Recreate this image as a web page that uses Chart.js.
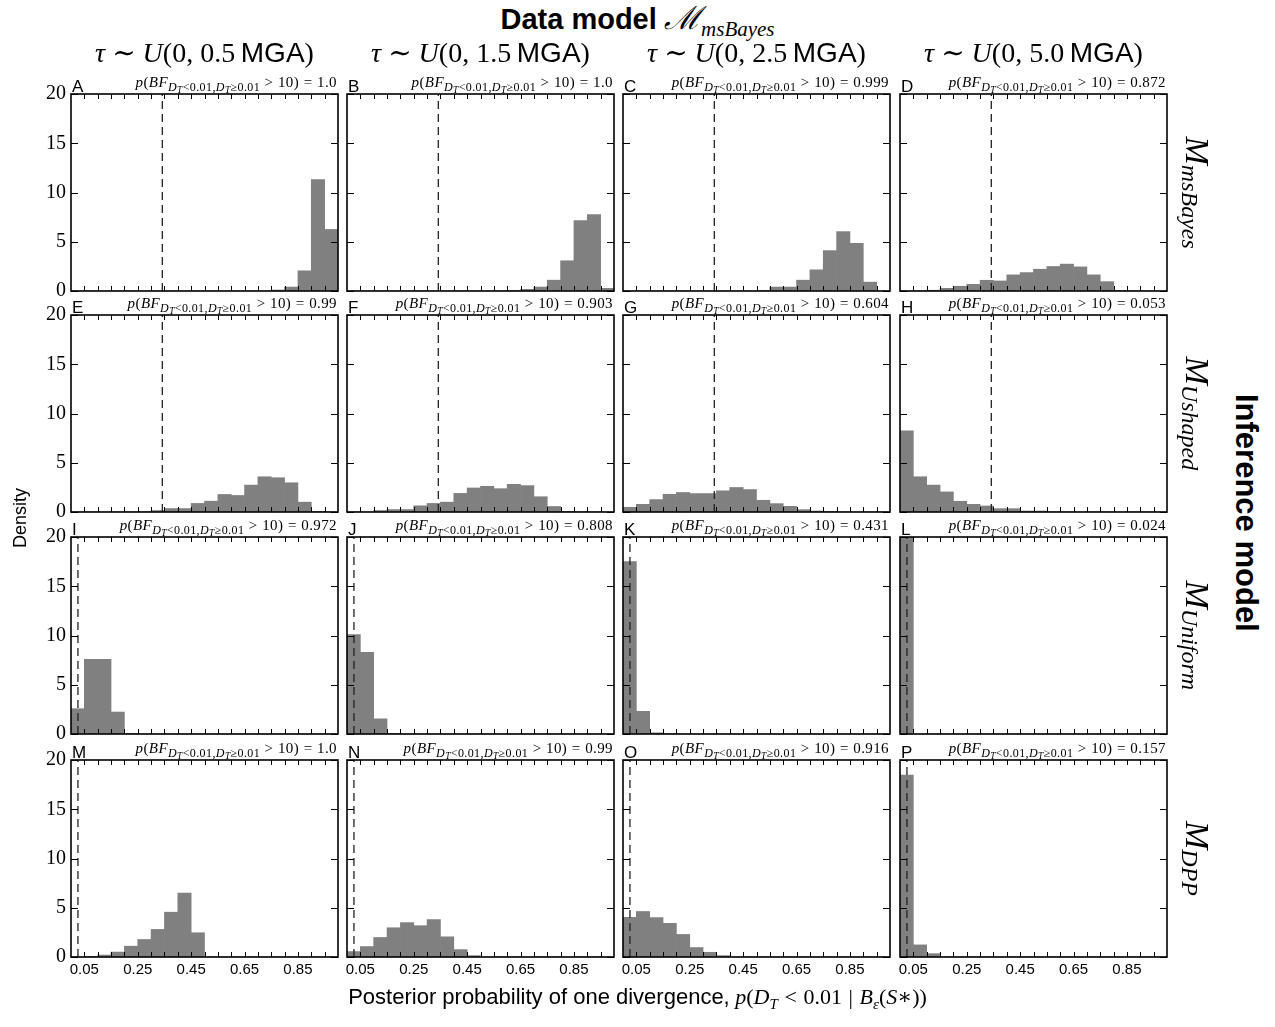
<!DOCTYPE html>
<html>
<head>
<meta charset="utf-8">
<script src="https://cdn.jsdelivr.net/npm/chart.js@4.4.1/dist/chart.umd.min.js"></script>
<style>
  body { margin: 0; background: #fff; }
  #fig { position: relative; width: 1275px; height: 1027px; overflow: hidden; background: #fff; }
  #fig canvas { position: absolute; }
  .txt { position: absolute; white-space: nowrap; color: #000; }
  .math { font-family: "Liberation Serif", "DejaVu Serif", serif; }
  .sf { font-family: "Liberation Sans", Arial, sans-serif; font-style: normal; }
  .ann { font-family: "Liberation Serif", serif; font-size: 15px; line-height: 14px; text-align: right; letter-spacing: 0.4px; }
  .ann sub { font-size: 80%; vertical-align: -0.3em; line-height: 0; }
  .ann sub sub { font-size: 78%; vertical-align: -0.25em; }
  .rel { margin: 0 0.3em; }
  .letter { font-family: "Liberation Sans", Arial, sans-serif; font-size: 17px; line-height: 16px; }
</style>
</head>
<body>
<div id="fig"></div>
<script>
// bins of width 0.05 from 0 to 1
const binCenters = [0.025, 0.075, 0.125, 0.175, 0.225, 0.275, 0.325, 0.375, 0.425, 0.475,
                    0.525, 0.575, 0.625, 0.675, 0.725, 0.775, 0.825, 0.875, 0.925, 0.975];
const xTickVals = [0.05, 0.1, 0.15, 0.2, 0.25, 0.3, 0.35, 0.4, 0.45, 0.5,
                   0.55, 0.6, 0.65, 0.7, 0.75, 0.8, 0.85, 0.9, 0.95];
const xLabelVals = [0.05, 0.25, 0.45, 0.65, 0.85];

// densities
const densA = [0,0,0,0,0, 0,0,0,0,0, 0,0,0,0,0, 0.1,0.4,2.05,11.3,6.25];
const densB = [0,0,0,0,0, 0,0,0,0,0, 0,0,0.05,0.17,0.4, 1.1,3.07,7.15,7.77,0.27];
const densC = [0,0,0,0,0, 0,0,0,0,0, 0.05,0.4,0.4,1.1,2.15, 4.1,6.03,4.84,0.9,0];
const densD = [0,0.02,0.08,0.27,0.48, 0.68,1.09,1.02,1.64,1.87, 2.21,2.49,2.73,2.45,1.64, 0.95,0.05,0.02,0,0];
const densE = [0,0,0,0,0, 0.03,0.15,0.35,0.35,0.87, 1.1,1.78,1.68,2.73,3.58, 3.48,2.97,1.0,0.07,0];
const densF = [0,0,0.15,0.25,0.25, 0.63,0.87,1.0,1.89,2.44, 2.61,2.37,2.81,2.68,1.55, 0.56,0.07,0.03,0,0];
const densG = [0.48,0.78,1.26,1.8,1.98, 1.87,1.87,2.15,2.49,2.28, 1.19,0.85,0.58,0.24,0.1, 0.05,0,0,0,0];
const densH = [8.25,3.58,2.73,2.04,1.09, 0.78,0.61,0.34,0.34,0.1, 0.1,0.02,0,0,0, 0,0,0,0,0];
const densI = [2.57,7.58,7.58,2.23,0.05, 0,0,0,0,0, 0,0,0,0,0, 0,0,0,0,0];
const densJ = [10.1,8.3,1.54,0.06,0, 0,0,0,0,0, 0,0,0,0,0, 0,0,0,0,0];
const densK = [17.5,2.3,0.12,0.03,0, 0,0,0,0,0, 0,0,0,0,0, 0,0,0,0,0];
const densL = [20,0,0,0,0, 0,0,0,0,0, 0,0,0,0,0, 0,0,0,0,0];
const densM = [0,0.05,0.2,0.5,1.1, 1.78,2.8,4.55,6.5,2.46, 0,0,0,0,0, 0,0,0,0,0];
const densN = [0.55,1.06,1.98,2.97,3.49, 3.18,3.8,2.05,0.75,0.14, 0,0,0,0,0, 0,0,0,0,0];
const densO = [4.03,4.62,4.0,3.42,2.29, 0.96,0.48,0.14,0,0, 0,0,0,0,0, 0,0,0,0,0];
const densP = [18.46,1.23,0.34,0,0, 0,0,0,0,0, 0,0,0,0,0, 0,0,0,0,0];

const letters = ['A','B','C','D','E','F','G','H','I','J','K','L','M','N','O','P'];
const bfValues = ['1.0','1.0','0.999','0.872','0.99','0.903','0.604','0.053',
                  '0.972','0.808','0.431','0.024','1.0','0.99','0.916','0.157'];
const priorLine = [0.342, 0.342, 0.026, 0.026];   // dashed line per row
const tauMax = ['0.5', '1.5', '2.5', '5.0'];
const rowModels = ['msBayes', 'Ushaped', 'Uniform', 'DPP'];
const yTickMax = 20;

const allDens = [densA,densB,densC,densD,densE,densF,densG,densH,densI,densJ,densK,densL,densM,densN,densO,densP];

// layout
const COL_X = [71, 347, 623, 900];
const ROW_Y = [94, 315, 537, 760];
const PW = 267, PH = 197;
const PAD_L = 40, PAD_R = 6, PAD_T = 12, PAD_B = 30;

const fig = document.getElementById('fig');

function addText(html, cls, style) {
  const d = document.createElement('div');
  d.className = 'txt ' + (cls || '');
  d.innerHTML = html;
  Object.assign(d.style, style);
  fig.appendChild(d);
  return d;
}

const framePlugin = {
  id: 'frame',
  afterDatasetsDraw(chart) {
    const { ctx, chartArea: a, scales: { x, y } } = chart;
    ctx.save();
    ctx.strokeStyle = '#000';
    ctx.lineWidth = 1;
    ctx.beginPath();
    x.ticks.forEach(t => {
      const px = Math.round(x.getPixelForValue(t.value)) + 0.5;
      ctx.moveTo(px, a.bottom); ctx.lineTo(px, a.bottom - 5);
      ctx.moveTo(px, a.top); ctx.lineTo(px, a.top + 5);
    });
    y.ticks.forEach(t => {
      const py = Math.round(y.getPixelForValue(t.value)) + 0.5;
      ctx.moveTo(a.left, py); ctx.lineTo(a.left + 7, py);
      ctx.moveTo(a.right, py); ctx.lineTo(a.right - 7, py);
    });
    ctx.stroke();
    ctx.lineWidth = 1.6;
    ctx.strokeRect(a.left, a.top, a.right - a.left, a.bottom - a.top);
    ctx.restore();
  }
};

function makePanel(idx) {
  const r = Math.floor(idx / 4), c = idx % 4;
  const canvas = document.createElement('canvas');
  canvas.width = PW + PAD_L + PAD_R;
  canvas.height = PH + PAD_T + PAD_B;
  canvas.style.left = (COL_X[c] - PAD_L) + 'px';
  canvas.style.top = (ROW_Y[r] - PAD_T) + 'px';
  fig.appendChild(canvas);

  const dens = allDens[idx];
  new Chart(canvas, {
    type: 'bar',
    data: {
      datasets: [
        { type: 'line', data: [{ x: priorLine[r], y: 0 }, { x: priorLine[r], y: yTickMax }],
          borderColor: '#222', borderWidth: 1.3, borderDash: [8, 5], pointRadius: 0 },
        { type: 'bar', data: binCenters.map((x, i) => ({ x, y: dens[i] })),
          backgroundColor: '#808080', borderWidth: 0, barPercentage: 1, categoryPercentage: 1 }
      ]
    },
    options: {
      responsive: false, animation: false, events: [],
      plugins: { legend: { display: false }, tooltip: { enabled: false } },
      layout: { padding: { top: PAD_T, right: PAD_R, left: 0, bottom: 0 } },
      scales: {
        x: {
          type: 'linear', min: 0, max: 1, offset: false,
          grid: { display: false, drawTicks: false }, border: { display: false },
          afterBuildTicks: s => { s.ticks = xTickVals.map(v => ({ value: v })); },
          ticks: {
            display: r === 3, autoSkip: false, maxRotation: 0, padding: 4, color: '#000',
            font: { family: 'Liberation Sans', size: 15 },
            callback: v => xLabelVals.includes(v) ? v.toFixed(2) : ''
          },
          afterFit: s => { s.height = PAD_B; s.paddingLeft = 0; s.paddingRight = 0; }
        },
        y: {
          min: 0, max: yTickMax,
          grid: { display: false, drawTicks: false }, border: { display: false },
          ticks: { stepSize: 5, display: c === 0, padding: 5, color: '#000',
                   font: { family: 'Liberation Serif', size: 20 } },
          afterFit: s => { s.width = PAD_L; s.paddingTop = 0; s.paddingBottom = 0; }
        }
      }
    },
    plugins: [framePlugin]
  });

  // panel letter and Bayes factor annotation
  addText(letters[idx], 'letter', { left: (COL_X[c] + 1) + 'px', top: (ROW_Y[r] - 15) + 'px' });
  addText('<i>p</i>(<i>BF</i><sub><i>D</i><sub><i>T</i></sub>&lt;0.01,<i>D</i><sub><i>T</i></sub>≥0.01</sub><span class="rel">&gt;</span>10)<span class="rel">=</span>' + bfValues[idx],
    'ann', { left: COL_X[c] + 'px', width: (PW - 1) + 'px', top: (ROW_Y[r] - 19) + 'px' });
}

for (let i = 0; i < 16; i++) makePanel(i);

// main title
addText('<b class="sf">Data model</b> <span class="math" style="font-style:italic;font-size:32px">ℳ</span><sub class="math" style="font-size:21px"><i>msBayes</i></sub>',
  '', { left: '0px', width: '1275px', textAlign: 'center', top: '0px', fontSize: '29px', lineHeight: '36px' });

// column titles
tauMax.forEach((t, c) => {
  addText('<i>τ</i> ∼ <i>U</i>(0, ' + t + '&thinsp;<span class="sf">MGA</span>)', 'math',
    { left: (COL_X[c] - 40) + 'px', width: (PW + 80) + 'px', textAlign: 'center', top: '35px', fontSize: '28px', lineHeight: '36px' });
});

// row labels (rotated clockwise)
rowModels.forEach((m, r) => {
  const d = addText('<i style="font-size:34px">M</i><sub style="font-size:24px"><i>' + m + '</i></sub>', 'math',
    { left: '0px', top: '0px', lineHeight: '42px' });
  const w = d.offsetWidth;
  d.style.transformOrigin = '0 0';
  d.style.transform = 'translate(1218px,' + (ROW_Y[r] + PH / 2 - w / 2) + 'px) rotate(90deg)';
});

// Inference model
{
  const d = addText('<b>Inference model</b>', 'sf', { left: '0px', top: '0px', fontSize: '31px', lineHeight: '34px' });
  const w = d.offsetWidth;
  d.style.transformOrigin = '0 0';
  d.style.transform = 'translate(1263px,' + (513 - w / 2) + 'px) rotate(90deg)';
}

// Density
{
  const d = addText('Density', 'sf', { left: '0px', top: '0px', fontSize: '18px', lineHeight: '20px' });
  const w = d.offsetWidth;
  d.style.transformOrigin = '0 0';
  d.style.transform = 'translate(10px,' + (518 + w / 2) + 'px) rotate(-90deg)';
}

// x axis title
addText('<span class="sf">Posterior probability of one divergence,</span> <span class="math"><i>p</i>(<i>D</i><sub style="font-size:15px"><i>T</i></sub><span class="rel">&lt;</span>0.01<span class="rel">|</span><i>B</i><sub style="font-size:15px"><i>ε</i></sub>(<i>S</i>∗))</span>',
  '', { left: '0px', width: '1275px', textAlign: 'center', top: '983px', fontSize: '22px', lineHeight: '28px' });
</script>
</body>
</html>
